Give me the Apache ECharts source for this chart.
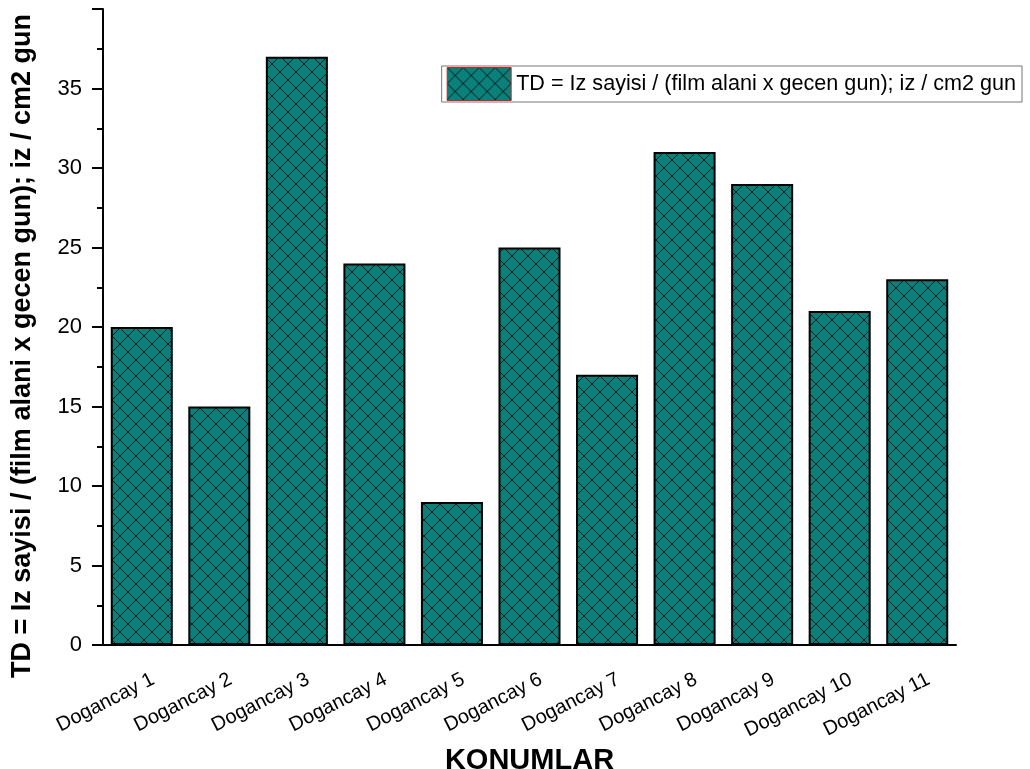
<!DOCTYPE html>
<html>
<head>
<meta charset="utf-8">
<script src="https://cdn.jsdelivr.net/npm/echarts@6/dist/echarts.min.js"></script>
<style>
  html, body { margin: 0; padding: 0; background: #fff; }
  #chart { width: 1030px; height: 769px; }
</style>
</head>
<body>
<div id="chart"></div>
<script>
// konumlar ve TD degerleri
var categories = ['Dogancay 1', 'Dogancay 2', 'Dogancay 3', 'Dogancay 4', 'Dogancay 5', 'Dogancay 6',
    'Dogancay 7', 'Dogancay 8', 'Dogancay 9', 'Dogancay 10', 'Dogancay 11'];
var tdValues = [20, 15, 37, 24, 9, 25, 17, 31, 29, 21, 23];
var seriesName = 'TD = Iz sayisi / (film alani x gecen gun); iz / cm2 gun';

// capraz tarama deseni
function hatchPattern() {
    var size = 16;
    var c = document.createElement('canvas');
    c.width = size;
    c.height = size;
    var ctx = c.getContext('2d');
    ctx.fillStyle = '#0b807b';
    ctx.fillRect(0, 0, size, size);
    ctx.strokeStyle = '#061c1c';
    ctx.lineWidth = 1;
    ctx.beginPath();
    ctx.moveTo(0, 0);
    ctx.lineTo(size, size);
    ctx.moveTo(size, 0);
    ctx.lineTo(0, size);
    ctx.stroke();
    return c;
}

var chart = echarts.init(document.getElementById('chart'));
var fontFam = 'Liberation Sans, Arial, sans-serif';
var option = {
    animation: false,
    grid: {
        left: 103,
        right: 74,
        top: 9,
        bottom: 124,
        outerBoundsMode: 'none'
    },
    legend: {
        right: 8,
        top: 66,
        icon: 'rect',
        itemWidth: 64,
        itemHeight: 33,
        padding: [1, 6, 1, 5],
        borderColor: '#777',
        borderWidth: 1,
        itemGap: 8,
        itemStyle: {
            borderColor: '#cc2222',
            borderWidth: 1
        },
        textStyle: {
            fontFamily: fontFam,
            fontSize: 21.6,
            color: '#000'
        },
        data: [seriesName]
    },
    xAxis: [{
        type: 'category',
        data: categories,
        name: 'KONUMLAR',
        nameLocation: 'middle',
        nameGap: 92,
        nameTextStyle: {
            fontFamily: fontFam,
            fontSize: 29,
            fontWeight: 'bold',
            color: '#000'
        },
        axisLine: {
            lineStyle: { color: '#000', width: 2 }
        },
        axisTick: {
            alignWithLabel: true,
            length: 14,
            lineStyle: { color: '#000', width: 2 }
        },
        axisLabel: {
            interval: 0,
            rotate: 27,
            margin: 11,
            formatter: function (v) {
                return '{a|' + v + '}';
            },
            rich: {
                a: {
                    padding: [50, 0, 0, 0],
                    fontFamily: fontFam,
                    fontSize: 20,
                    color: '#000'
                }
            },
            fontFamily: fontFam,
            fontSize: 20,
            color: '#000'
        }
    }, {
        // kategori sinirlarindaki kisa tikler
        type: 'category',
        data: categories,
        position: 'bottom',
        axisLine: { show: false },
        axisTick: {
            length: 7,
            lineStyle: { color: '#000', width: 2 }
        },
        axisLabel: { show: false }
    }],
    yAxis: {
        type: 'value',
        min: 0,
        max: 40,
        interval: 5,
        name: seriesName,
        nameLocation: 'middle',
        nameGap: 67,
        nameTextStyle: {
            fontFamily: fontFam,
            fontSize: 27,
            fontWeight: 'bold',
            color: '#000',
            padding: [0, 38, 0, 0]
        },
        splitLine: { show: false },
        axisLine: {
            show: true,
            lineStyle: { color: '#000', width: 2 }
        },
        axisTick: {
            show: true,
            length: 11,
            lineStyle: { color: '#000', width: 2 }
        },
        minorTick: {
            show: true,
            splitNumber: 2,
            length: 6,
            lineStyle: { color: '#000', width: 2 }
        },
        axisLabel: {
            showMaxLabel: false,
            margin: 21,
            fontFamily: fontFam,
            fontSize: 22,
            color: '#000'
        }
    },
    series: [{
        name: seriesName,
        type: 'bar',
        barCategoryGap: '20%',
        itemStyle: {
            color: { image: hatchPattern(), repeat: 'repeat' },
            borderColor: '#000',
            borderWidth: 2
        },
        data: tdValues
    }]
};
chart.setOption(option);
</script>
</body>
</html>
